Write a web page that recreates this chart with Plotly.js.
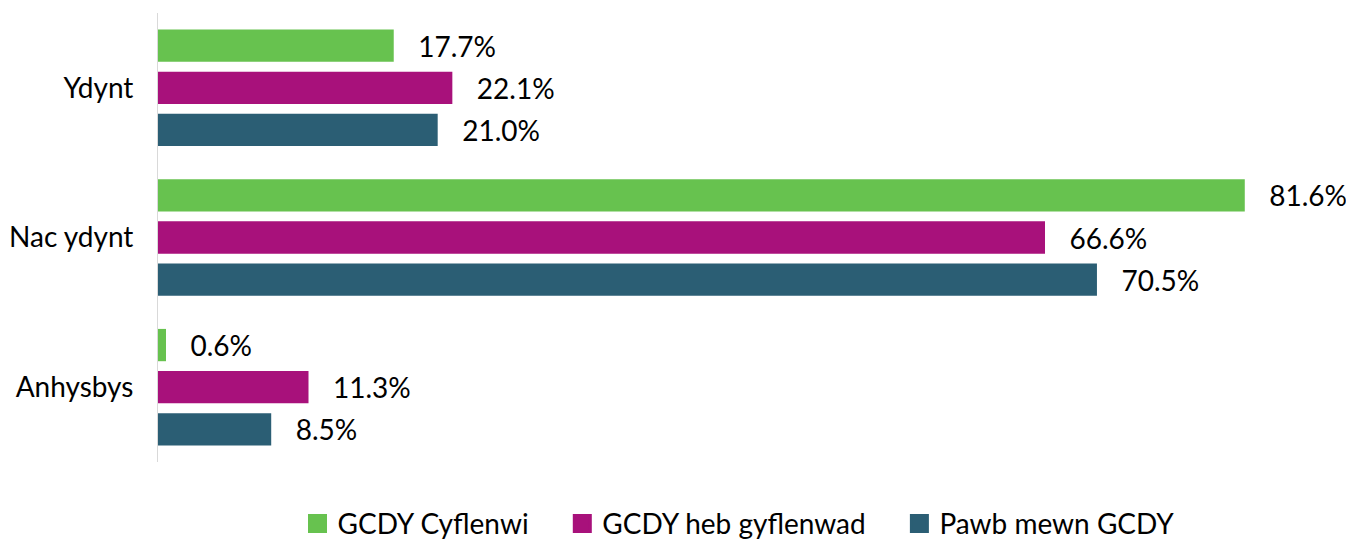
<!DOCTYPE html>
<html>
<head>
<meta charset="utf-8">
<script src="https://cdn.plot.ly/plotly-3.0.1.min.js"></script>
<style>
  html, body { margin: 0; padding: 0; background: #fff; }
  #chart { width: 1346px; height: 540px; }
</style>
</head>
<body>
<div id="chart"></div>
<script>
// categories (top to bottom)
let categories = ["Ydynt", "Nac ydynt", "Anhysbys"];

// series
let seriesNames = ["GCDY Cyflenwi", "GCDY heb gyflenwad", "Pawb mewn GCDY"];
let cyflenwi = [17.7, 81.6, 0.6];
let hebGyflenwad = [22.1, 66.6, 11.3];
let pawb = [21.0, 70.5, 8.5];

let colors = ["#67C24F", "#A8117B", "#2B5E74"];
let allValues = [cyflenwi, hebGyflenwad, pawb];

let fontFamily = "Lato, 'Liberation Sans', sans-serif";
let fontSize = 28;

let traces = allValues.map((vals, i) => ({
    type: "bar",
    orientation: "h",
    name: seriesNames[i],
    x: vals,
    y: categories,
    marker: { color: colors[i] },
    texttemplate: "\u00a0\u00a0\u00a0%{x:.1f}%",
    textposition: "outside",
    constraintext: "none",
    cliponaxis: false,
    textfont: { size: fontSize, color: "#000", family: fontFamily },
    showlegend: false,
    hoverinfo: "skip"
}));

// legend entries with bigger square swatches
seriesNames.forEach((name, i) => {
    traces.push({
        type: "scatter",
        mode: "markers",
        name: name + "\u00a0\u00a0\u00a0\u00a0",
        x: [null],
        y: [null],
        marker: { symbol: "square", size: 16, color: colors[i], line: { color: colors[i], width: 3 } },
        showlegend: true
    });
});

let layout = {
    width: 1346,
    height: 540,
    margin: { l: 158, r: 0, t: 13, b: 78, autoexpand: false },
    paper_bgcolor: "#fff",
    plot_bgcolor: "#fff",
    font: { family: fontFamily, size: fontSize, color: "#000" },
    barmode: "group",
    bargap: 0.156,
    bargroupgap: 0.233,
    xaxis: {
        range: [0, 89.2],
        showgrid: false,
        zeroline: false,
        showline: false,
        showticklabels: false,
        ticks: ""
    },
    yaxis: {
        autorange: "reversed",
        showgrid: false,
        zeroline: false,
        showline: true,
        linecolor: "#d9d9d9",
        linewidth: 1,
        ticks: "",
        ticklabelstandoff: 18,
        tickfont: { size: fontSize, color: "#000", family: fontFamily }
    },
    legend: {
        orientation: "h",
        x: 0.5,
        xanchor: "center",
        yref: "container",
        y: 0.03,
        yanchor: "middle",
        font: { size: fontSize, color: "#000", family: fontFamily },
        itemwidth: 30,
        tracegroupgap: 0
    },
    showlegend: true
};

Plotly.newPlot("chart", traces, layout, { displayModeBar: false, staticPlot: true });
</script>
</body>
</html>
